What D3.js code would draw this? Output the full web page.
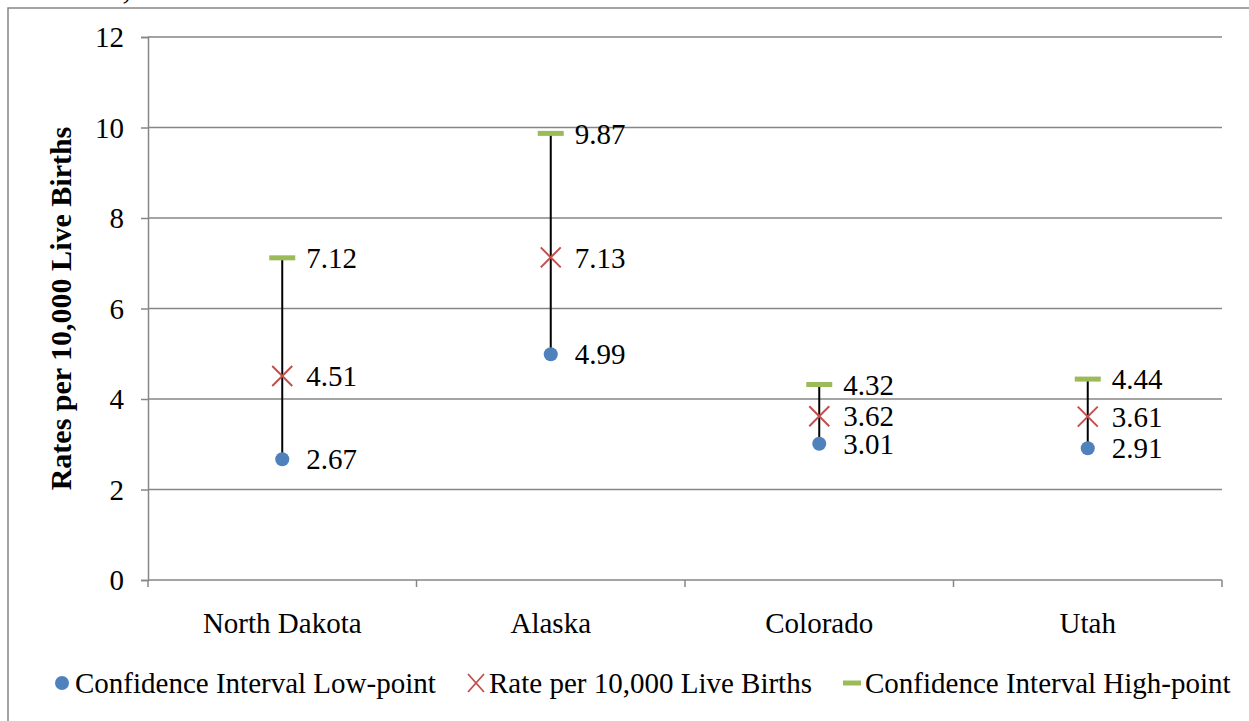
<!DOCTYPE html>
<html>
<head>
<meta charset="utf-8">
<script src="https://cdn.jsdelivr.net/npm/d3@7"></script>
<style>
  html, body { margin: 0; padding: 0; background: #fff; overflow: hidden; }
  svg { display: block; }
  text { font-family: "Times New Roman", "Liberation Serif", serif; fill: #000; }
</style>
</head>
<body>
<svg id="chart" width="1249" height="721"></svg>
<script>
// Birth-defect rates with 95% confidence intervals, by state
const states = ["North Dakota", "Alaska", "Colorado", "Utah"];
const ciLow = [2.67, 4.99, 3.01, 2.91];
const rate = [4.51, 7.13, 3.62, 3.61];
const ciHigh = [7.12, 9.87, 4.32, 4.44];
const yTicks = [0, 2, 4, 6, 8, 10, 12];
const seriesNames = ["Confidence Interval Low-point", "Rate per 10,000 Live Births", "Confidence Interval High-point"];

const colors = { low: "#4F81BD", rate: "#C0504D", high: "#9BBB59", grid: "#868686" };
const fontSize = 29;

const svg = d3.select("#chart");
const margin = { left: 148, right: 1222, top: 37, bottom: 580 };

const x = d3.scaleBand().domain(states).range([margin.left, margin.right]);
const y = d3.scaleLinear().domain([0, 12]).range([margin.bottom, margin.top]);

// Caption line running off the top of the frame
svg.append("text")
  .attr("x", -5).attr("y", -1)
  .attr("font-size", 34).attr("font-style", "italic")
  .text("and Utah, 2004-2008");

// Outer chart frame
svg.append("rect")
  .attr("x", 8).attr("y", 8)
  .attr("width", 1300).attr("height", 800)
  .attr("fill", "none").attr("stroke", colors.grid).attr("stroke-width", 1.5);

// Horizontal gridlines
svg.append("g")
  .selectAll("line")
  .data(yTicks.filter(d => d > 0))
  .join("line")
  .attr("x1", margin.left).attr("x2", margin.right)
  .attr("y1", d => y(d)).attr("y2", d => y(d))
  .attr("stroke", colors.grid).attr("stroke-width", 1.5);

// Y axis
const yAxis = svg.append("g")
  .attr("transform", `translate(${margin.left},0)`)
  .call(d3.axisLeft(y).tickValues(yTicks).tickSize(7).tickPadding(17).tickFormat(d3.format("d")));
yAxis.select(".domain").attr("stroke", colors.grid).attr("stroke-width", 1.5);
yAxis.selectAll(".tick line").attr("stroke", colors.grid).attr("stroke-width", 1.5);
yAxis.selectAll(".tick text")
  .attr("font-size", fontSize).attr("font-family", "'Times New Roman', 'Liberation Serif', serif")
  .attr("fill", "#000").attr("dy", "0.33em");

// X axis with category boundary ticks
const xAxisG = svg.append("g").attr("transform", `translate(0,${margin.bottom})`);
xAxisG.append("line")
  .attr("x1", margin.left).attr("x2", margin.right)
  .attr("stroke", colors.grid).attr("stroke-width", 1.5);
const bounds = states.map(s => x(s)).concat([x(states[states.length - 1]) + x.bandwidth()]);
xAxisG.selectAll("line.bound")
  .data(bounds)
  .join("line")
  .attr("class", "bound")
  .attr("x1", d => d).attr("x2", d => d)
  .attr("y1", 0).attr("y2", 7)
  .attr("stroke", colors.grid).attr("stroke-width", 1.5);
xAxisG.selectAll("text")
  .data(states)
  .join("text")
  .attr("x", d => x(d) + x.bandwidth() / 2)
  .attr("y", 53)
  .attr("text-anchor", "middle")
  .attr("font-size", fontSize)
  .text(d => d);

// Y axis title
svg.append("text")
  .attr("transform", `translate(71,${(margin.top + margin.bottom) / 2}) rotate(-90)`)
  .attr("text-anchor", "middle")
  .attr("font-size", 30).attr("font-weight", "bold")
  .text("Rates per 10,000 Live Births");

const cx = d => x(d) + x.bandwidth() / 2;
const rows = states.map((s, i) => ({ s, low: ciLow[i], rate: rate[i], high: ciHigh[i] }));

// Interval whiskers
svg.append("g")
  .selectAll("line")
  .data(rows)
  .join("line")
  .attr("x1", d => cx(d.s)).attr("x2", d => cx(d.s))
  .attr("y1", d => y(d.low)).attr("y2", d => y(d.high))
  .attr("stroke", "#000").attr("stroke-width", 2);

// High-point dashes
svg.append("g")
  .selectAll("rect")
  .data(rows)
  .join("rect")
  .attr("x", d => cx(d.s) - 13).attr("y", d => y(d.high) - 2.5)
  .attr("width", 26).attr("height", 5)
  .attr("fill", colors.high);

// Rate crosses
const cross = (g, size) => {
  g.append("path")
    .attr("d", `M${-size},${-size}L${size},${size}M${-size},${size}L${size},${-size}`)
    .attr("stroke", colors.rate).attr("stroke-width", 2).attr("fill", "none");
};
svg.append("g")
  .selectAll("g")
  .data(rows)
  .join("g")
  .attr("transform", d => `translate(${cx(d.s)},${y(d.rate)})`)
  .each(function () { cross(d3.select(this), 10); });

// Low-point dots
svg.append("g")
  .selectAll("circle")
  .data(rows)
  .join("circle")
  .attr("cx", d => cx(d.s)).attr("cy", d => y(d.low))
  .attr("r", 7)
  .attr("fill", colors.low);

// Value labels
const labels = [];
rows.forEach(d => {
  labels.push({ s: d.s, v: d.low });
  labels.push({ s: d.s, v: d.rate });
  labels.push({ s: d.s, v: d.high });
});
svg.append("g")
  .selectAll("text")
  .data(labels)
  .join("text")
  .attr("x", d => cx(d.s) + 24)
  .attr("y", d => y(d.v))
  .attr("dy", "0.35em")
  .attr("font-size", fontSize)
  .text(d => d3.format(".2f")(d.v));

// Legend
const legend = svg.append("g").attr("transform", "translate(0,683)");
const legendX = [62, 476, 852];
const lg = legend.selectAll("g")
  .data(seriesNames)
  .join("g")
  .attr("transform", (d, i) => `translate(${legendX[i]},0)`);
lg.each(function (d, i) {
  const g = d3.select(this);
  if (i === 0) {
    g.append("circle").attr("r", 7).attr("fill", colors.low);
  } else if (i === 1) {
    g.append("path")
      .attr("d", "M-8,-9L8,9M-8,9L8,-9")
      .attr("stroke", colors.rate).attr("stroke-width", 1.8).attr("fill", "none");
  } else {
    g.append("rect").attr("x", -9).attr("y", -2.5).attr("width", 18).attr("height", 5).attr("fill", colors.high);
  }
  g.append("text")
    .attr("x", 13).attr("y", 0).attr("dy", "0.35em")
    .attr("font-size", fontSize)
    .text(d);
});
</script>
</body>
</html>
